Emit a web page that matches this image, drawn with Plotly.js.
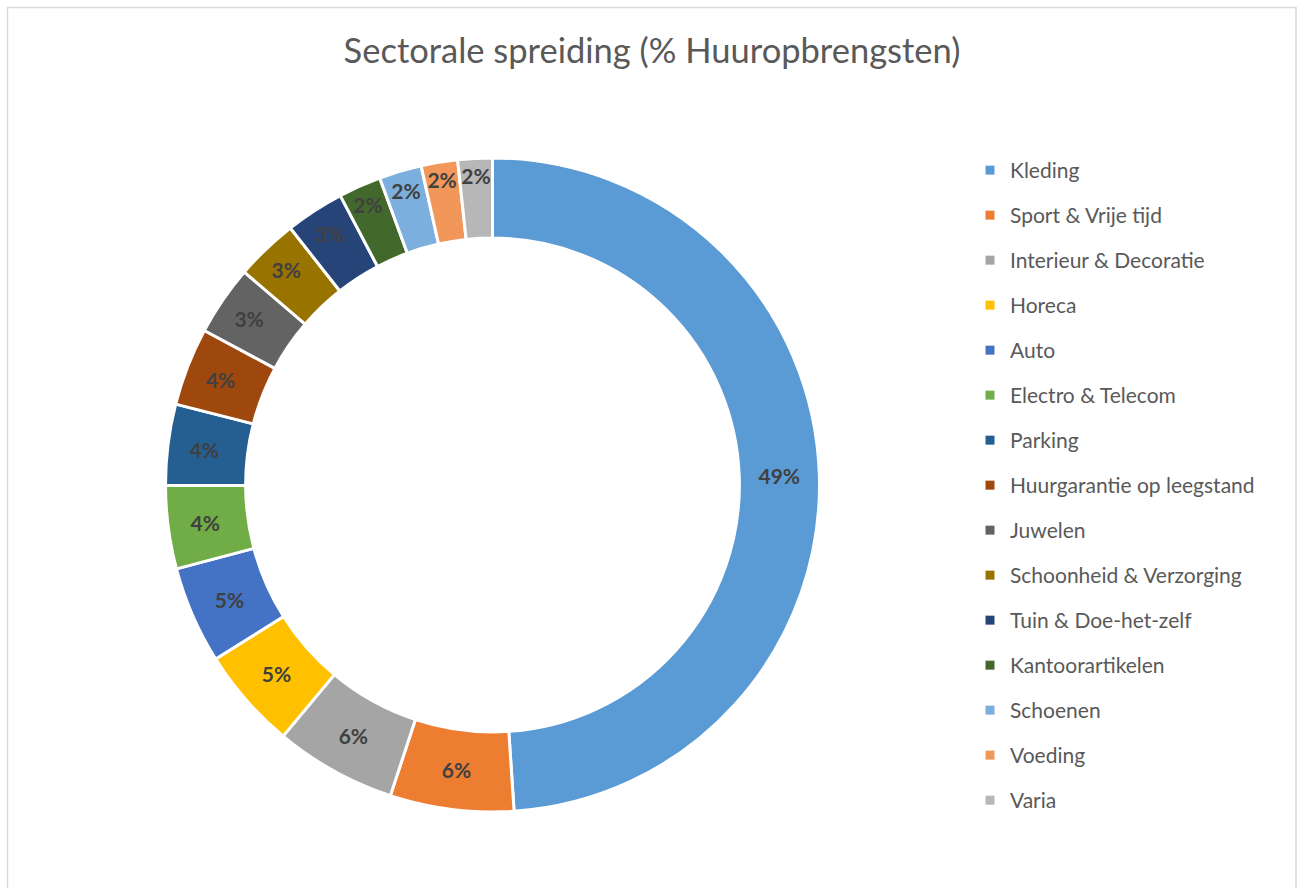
<!DOCTYPE html>
<html>
<head>
<meta charset="utf-8">
<script src="https://cdn.plot.ly/plotly-3.0.1.min.js"></script>
<style>
html, body { margin: 0; padding: 0; background: #ffffff; }
#chart { width: 1298px; height: 888px; }
</style>
</head>
<body>
<div id="chart"></div>
<script>
const categories = [
  "Kleding", "Sport & Vrije tijd", "Interieur & Decoratie", "Horeca", "Auto",
  "Electro & Telecom", "Parking", "Huurgarantie op leegstand", "Juwelen",
  "Schoonheid & Verzorging", "Tuin & Doe-het-zelf", "Kantoorartikelen",
  "Schoenen", "Voeding", "Varia"
];
const shares = [48.9, 6.1, 6.0, 5.0, 4.8, 4.1, 4.0, 3.85, 3.45, 3.1, 2.9, 2.1, 2.1, 1.8, 1.7];
const colors = [
  "#5B9BD5", "#ED7D31", "#A5A5A5", "#FFC000", "#4472C4",
  "#70AD47", "#255E91", "#9E480E", "#636363", "#997300",
  "#264478", "#43682B", "#7CAFDD", "#F1975A", "#B7B7B7"
];
const chartTitle = "Sectorale spreiding (% Huuropbrengsten)";

const W = 1298, H = 888;
const FONT = "Lato, 'Open Sans', sans-serif";

const pie = {
  type: "pie",
  labels: categories,
  values: shares,
  sort: false,
  direction: "clockwise",
  rotation: 0,
  hole: 0.755,
  marker: { colors: colors, line: { color: "#ffffff", width: 3 } },
  texttemplate: "%{percent:.0%}",
  textposition: "inside",
  insidetextorientation: "horizontal",
  textfont: { family: FONT, size: 21, color: "#404040", weight: "bold" },
  domain: { x: [165.5 / W, 819.5 / W], y: [1 - 812 / H, 1 - 158 / H] },
  showlegend: false,
  hoverinfo: "label+percent"
};

const legendTraces = categories.map((c, i) => ({
  type: "scatter",
  mode: "markers",
  x: [null], y: [null],
  name: c,
  legendgroup: "g" + i,
  marker: { symbol: "square", size: 9, color: colors[i] },
  showlegend: true,
  hoverinfo: "skip"
}));

const layout = {
  width: W, height: H,
  margin: { l: 0, r: 0, t: 0, b: 0 },
  paper_bgcolor: "#ffffff",
  plot_bgcolor: "rgba(0,0,0,0)",
  title: {
    text: chartTitle,
    x: 652 / W, xanchor: "center", xref: "paper",
    y: 1 - 51 / H, yanchor: "middle", yref: "paper",
    font: { family: FONT, size: 34.5, color: "#595959" }
  },
  xaxis: { visible: false, domain: [0.9, 0.91] },
  yaxis: { visible: false, domain: [0.9, 0.91] },
  uniformtext: { minsize: 21, mode: "show" },
  legend: {
    x: 970 / W, xanchor: "left",
    y: 1 - 150 / H, yanchor: "top",
    font: { family: FONT, size: 21, color: "#595959" },
    tracegroupgap: 14.7,
    itemwidth: 30,
    bgcolor: "rgba(0,0,0,0)"
  },
  shapes: [{
    type: "rect", xref: "paper", yref: "paper",
    x0: 7.5 / W, x1: 1296 / W, y0: -0.05, y1: 1 - 7.5 / H,
    line: { color: "#d9d9d9", width: 1.5 }, fillcolor: "rgba(0,0,0,0)"
  }]
};

Plotly.newPlot("chart", [pie].concat(legendTraces), layout, { displayModeBar: false, staticPlot: true });
</script>
</body>
</html>
